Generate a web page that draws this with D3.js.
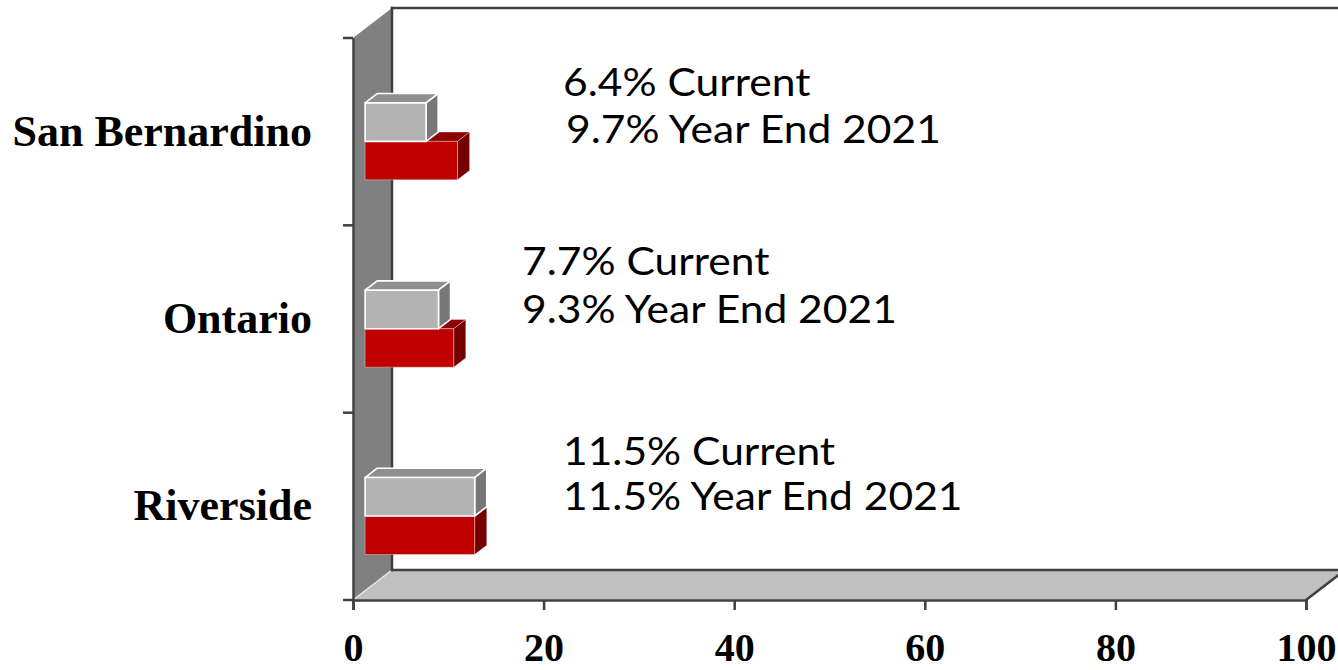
<!DOCTYPE html>
<html>
<head>
<meta charset="utf-8">
<script src="https://cdn.jsdelivr.net/npm/d3@7"></script>
<style>
  html, body { margin: 0; padding: 0; background: #ffffff; }
  svg { display: block; }
</style>
</head>
<body>
<svg id="chart" width="1338" height="670"></svg>
<script>
// Vacancy rates by city: current vs. year end 2021 (percent)
const categories = ["San Bernardino", "Ontario", "Riverside"];
const seriesNames = ["Current", "Year End 2021"];
const currentValues = [6.4, 7.7, 11.5];
const yearEndValues = [9.7, 9.3, 11.5];
const xTicks = [0, 20, 40, 60, 80, 100];

const svg = d3.select("#chart");

// Front plane of the 3D box
const x = d3.scaleLinear().domain([0, 100]).range([353, 1306]);
const y = d3.scaleBand().domain(categories).range([38, 600]);
const yTop = 38, yBase = 600;

// Oblique depth vector (full depth of the box)
const DX = 39, DY = -30;
const proj = (px, py, d) => [px + DX * d, py + DY * d];

// Bars occupy a slice of the depth
const d0 = 0.31, d1 = 0.62;
const barH = 38.5;
const ySeries = d3.scaleBand().domain(seriesNames).range([0, barH * 2]);

const dark = "#404040";

// ---- Walls ----
const wallPts = [proj(x(0), yTop, 0), proj(x(0), yTop, 1), proj(x(0), yBase, 1), proj(x(0), yBase, 0)];
svg.append("polygon").attr("points", wallPts.map(p => p.join(",")).join(" "))
  .attr("fill", "#808080").attr("stroke", "none");

const floorPts = [proj(x(0), yBase, 0), proj(x(0), yBase, 1), proj(x(100), yBase, 1), proj(x(100), yBase, 0)];
svg.append("polygon").attr("points", floorPts.map(p => p.join(",")).join(" "))
  .attr("fill", "#c0c0c0").attr("stroke", "none");

// wall/floor seam
svg.append("line")
  .attr("x1", proj(x(0), yBase, 0)[0]).attr("y1", proj(x(0), yBase, 0)[1])
  .attr("x2", proj(x(0), yBase, 1)[0]).attr("y2", proj(x(0), yBase, 1)[1])
  .attr("stroke", "#e8e8e8").attr("stroke-width", 1.5);

const edge = (a, b) => svg.append("line")
  .attr("x1", a[0]).attr("y1", a[1]).attr("x2", b[0]).attr("y2", b[1])
  .attr("stroke", dark).attr("stroke-width", 2.5).attr("stroke-linecap", "square");

// back wall edges
edge(proj(x(0), yTop, 1), [1340, proj(x(0), yTop, 1)[1]]);
edge(proj(x(0), yTop, 1), proj(x(0), yBase, 1));
edge(proj(x(0), yBase, 1), proj(x(100), yBase, 1));
// floor front-right slant
edge(proj(x(100), yBase, 0), proj(x(100), yBase, 1));

// ---- Axes on the front plane ----
const xAxis = d3.axisBottom(x).tickValues(xTicks).tickSize(10).tickPadding(14).tickFormat(d3.format("d"));
const gx = svg.append("g").attr("transform", `translate(0,${yBase})`).call(xAxis);
gx.select(".domain").attr("stroke", dark).attr("stroke-width", 2.5);
gx.selectAll(".tick line").attr("stroke", dark).attr("stroke-width", 2.5);
gx.selectAll(".tick text")
  .attr("font-family", "'Liberation Serif', 'Times New Roman', serif")
  .attr("font-weight", "bold").attr("font-size", 40).attr("fill", "#000")
  .attr("dy", null).attr("y", 61);

const yAxis = d3.axisLeft(y).tickSize(0).tickPadding(41);
const gy = svg.append("g").attr("transform", `translate(${x(0)},0)`).call(yAxis);
gy.select(".domain").attr("stroke", dark).attr("stroke-width", 2.5);
gy.selectAll(".tick text")
  .attr("font-family", "'Liberation Serif', 'Times New Roman', serif")
  .attr("font-weight", "bold").attr("font-size", 44).attr("fill", "#000")
  .attr("dy", "0.32em");

// category boundary ticks
const bounds = [yTop].concat(categories.map(c => y(c) + y.bandwidth()));
svg.append("g").selectAll("line").data(bounds).join("line")
  .attr("x1", x(0) - 10).attr("x2", x(0)).attr("y1", d => d).attr("y2", d => d)
  .attr("stroke", dark).attr("stroke-width", 2.5);

// ---- Bars ----
const seriesStyle = {
  "Current":       { front: "#b3b3b3", top: "#8f8f8f", side: "#777777", stroke: "#ffffff", sw: 1.6 },
  "Year End 2021": { front: "#c00000", top: "#8e0000", side: "#760000", stroke: "rgba(255,255,255,0.35)", sw: 1 }
};
const barData = [];
categories.forEach((c, i) => {
  barData.push({ cat: c, series: "Year End 2021", value: yearEndValues[i] });
  barData.push({ cat: c, series: "Current", value: currentValues[i] });
});

const pts = arr => arr.map(p => p.join(",")).join(" ");
const barG = svg.append("g");
barData.forEach(b => {
  const st = seriesStyle[b.series];
  const cy = y(b.cat) + y.bandwidth() / 2 + 19 - barH;
  const t = cy + ySeries(b.series), bt = t + ySeries.bandwidth();
  const a = x(0), e = x(b.value);
  const g = barG.append("g");
  // top face
  g.append("polygon").attr("points", pts([proj(a, t, d0), proj(e, t, d0), proj(e, t, d1), proj(a, t, d1)]))
    .attr("fill", st.top).attr("stroke", st.stroke).attr("stroke-width", st.sw).attr("stroke-linejoin", "round");
  // side face
  g.append("polygon").attr("points", pts([proj(e, t, d0), proj(e, t, d1), proj(e, bt, d1), proj(e, bt, d0)]))
    .attr("fill", st.side).attr("stroke", st.stroke).attr("stroke-width", st.sw).attr("stroke-linejoin", "round");
  // front face
  g.append("polygon").attr("points", pts([proj(a, t, d0), proj(e, t, d0), proj(e, bt, d0), proj(a, bt, d0)]))
    .attr("fill", st.front).attr("stroke", st.stroke).attr("stroke-width", st.sw).attr("stroke-linejoin", "round");
});

// ---- Value notes ----
const noteX = [563, 522, 563];
const noteDY = [-36, -44, -41];
const noteGap = [47, 48, 45];
const noteStretch = 1.12;
const fmt = v => v.toFixed(1) + "%";
const notes = svg.append("g")
  .attr("font-family", "Lato, 'Open Sans', sans-serif")
  .attr("font-size", 38).attr("fill", "#000");
const note = (tx, ty, str) => notes.append("text")
  .attr("transform", `translate(${tx},${ty}) scale(${noteStretch},1)`)
  .text(str);
categories.forEach((c, i) => {
  const base = y(c) + y.bandwidth() / 2 + noteDY[i];
  note(noteX[i], base, `${fmt(currentValues[i])} ${seriesNames[0]}`);
  note(noteX[i] + (i === 0 ? 3 : 0), base + noteGap[i], `${fmt(yearEndValues[i])} ${seriesNames[1]}`);
});
</script>
</body>
</html>
